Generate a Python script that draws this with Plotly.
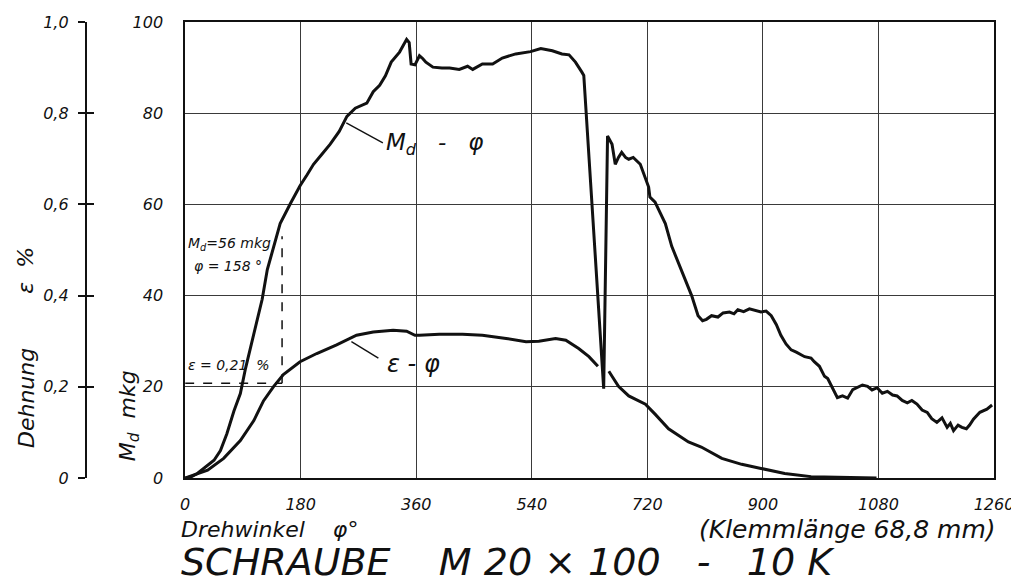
import plotly.graph_objects as go

# ---------------- data ----------------
md_phi = [0, 10, 19, 30, 45, 55, 65, 76, 86, 94, 107, 120, 128, 138, 148, 164, 179, 190, 200,
          213, 226, 240, 252, 265, 276, 283, 293, 303, 312, 321, 334, 340, 345, 349, 352, 358,
          365, 370, 375, 386, 400, 412, 427, 440, 448, 463, 479, 494, 515, 538, 554, 572, 587,
          598, 608, 618, 621, 652, 658, 665, 670, 675, 680, 686, 691, 698, 709, 722, 724, 732,
          748, 758, 773, 789, 799, 806, 812, 820, 830, 838, 848, 855, 861, 870, 879, 889, 897,
          905, 913, 921, 928, 936, 944, 952, 959, 965, 975, 980, 988, 996, 1001, 1006, 1011,
          1016, 1024, 1032, 1040, 1047, 1055, 1063, 1070, 1078, 1086, 1094, 1102, 1109, 1117,
          1125, 1132, 1140, 1148, 1156, 1163, 1171, 1179, 1187, 1192, 1197, 1204, 1210, 1217,
          1222, 1228, 1238, 1249, 1257]
md_val = [0, 0.3, 1.0, 2.2, 3.9, 6.0, 9.7, 14.7, 18.5, 24.0, 31.3, 39.2, 45.7, 50.8, 55.8, 60.2,
          64.1, 66.5, 68.8, 71.0, 73.2, 76.0, 79.3, 81.1, 81.8, 82.2, 84.7, 86.1, 88.2, 91.2, 93.4,
          95.0, 96.2, 95.5, 90.8, 90.6, 92.6, 92.0, 91.2, 90.1, 89.9, 89.9, 89.6, 90.3, 89.6,
          90.8, 90.8, 92.1, 93.0, 93.5, 94.2, 93.7, 93.0, 92.8, 91.2, 89.0, 88.3, 19.6, 75.0,
          73.2, 68.8, 70.3, 71.4, 70.3, 69.9, 70.3, 68.8, 63.8, 61.6, 60.5, 55.8, 50.8, 45.7,
          40.0, 35.6, 34.5, 34.8, 35.6, 35.3, 36.2, 36.4, 36.0, 36.9, 36.5, 37.1, 36.8, 36.4,
          36.6, 35.6, 33.6, 31.3, 29.4, 28.1, 27.6, 27.0, 26.6, 26.3, 25.5, 24.5, 22.3, 21.8,
          20.5, 19.0, 17.6, 18.0, 17.5, 19.4, 19.8, 20.4, 20.1, 19.3, 19.8, 18.6, 19.0, 18.2,
          18.0, 17.0, 16.5, 17.0, 16.2, 14.9, 14.4, 13.0, 12.2, 13.2, 11.1, 12.0, 10.4, 11.6,
          11.1, 10.8, 11.6, 12.9, 14.4, 15.1, 16.0]

eps_phi = [0, 35, 60, 86, 107, 122, 138, 153, 179, 205, 236, 267, 293, 324, 345, 358, 365, 396,
           432, 463, 500, 531, 551, 577, 593, 613, 629, 643, None, 660, 675, 691, 717, 732, 753,
           784, 804, 836, 867, 897, 934, 975, 1021, 1077]
eps_val = [0, 0.017, 0.043, 0.082, 0.126, 0.169, 0.201, 0.227, 0.255, 0.273, 0.292, 0.313, 0.320,
           0.324, 0.322, 0.313, 0.313, 0.315, 0.315, 0.313, 0.306, 0.299, 0.300, 0.306, 0.302,
           0.284, 0.266, 0.245, None, 0.234, 0.201, 0.180, 0.162, 0.140, 0.108, 0.079, 0.068,
           0.043, 0.030, 0.021, 0.010, 0.003, 0.001, 0.0]

x_ticks = [0, 180, 360, 540, 720, 900, 1080, 1260]
md_ticks = [0, 20, 40, 60, 80, 100]
eps_ticks = [0, 0.2, 0.4, 0.6, 0.8, 1.0]
eps_tick_text = ["0", "0,2", "0,4", "0,6", "0,8", "1,0"]

# marked reading (dashed guide lines), as drawn in the picture
mark_phi = 151
mark_md = 53
mark_eps = 0.208

FONT = "DejaVu Sans"
INK = "#111111"
GRID = "#3a3a3a"

fig = go.Figure()
fig.add_trace(go.Scatter(x=md_phi, y=md_val, mode="lines",
                         line=dict(color=INK, width=3), yaxis="y", showlegend=False,
                         hoverinfo="skip"))
fig.add_trace(go.Scatter(x=eps_phi, y=eps_val, mode="lines",
                         line=dict(color=INK, width=3), yaxis="y2", showlegend=False,
                         connectgaps=False, hoverinfo="skip"))
# carrier for the inward half of the cross ticks of the epsilon axis
fig.add_trace(go.Scatter(x=[None], y=[None], yaxis="y3", showlegend=False))

# page is drawn with an 8px body margin -> figure coords = picture coords - 8
OFF = 8
W, H = 1019 - OFF, 586 - OFF
L, R, T, B = 5, 25, 8, 108
pw = W - L - R
ph = H - T - B


def px(x_ref):
    return (x_ref - OFF - L) / pw


def py(y_ref):
    return 1 - (y_ref - OFF - T) / ph


x0 = px(181)
epos = px(81)

tick_font = dict(family=FONT, size=16, color=INK, style="italic")

fig.update_layout(
    width=W, height=H,
    margin=dict(l=L, r=R, t=T, b=B),
    paper_bgcolor="white", plot_bgcolor="white",
    xaxis=dict(domain=[x0, 1], range=[0, 1260], tickvals=x_ticks,
               showgrid=True, gridcolor=GRID, gridwidth=1.3,
               showline=True, linecolor=INK, linewidth=1.6, mirror=True,
               ticks="", tickfont=tick_font, ticklabelstandoff=11, zeroline=False,
               ticklabeloverflow="allow"),
    yaxis=dict(range=[0, 100], tickvals=md_ticks,
               showgrid=True, gridcolor=GRID, gridwidth=1.3,
               showline=True, linecolor=INK, linewidth=1.6, mirror=True,
               ticks="", tickfont=tick_font, ticklabelstandoff=17, zeroline=False,
               ticklabeloverflow="allow"),
    yaxis2=dict(range=[0, 1], overlaying="y", anchor="free", position=epos, side="left",
                tickvals=eps_ticks, ticktext=eps_tick_text, showgrid=False, zeroline=False,
                showline=True, linecolor=INK, linewidth=1.6, ticks="outside", ticklen=7,
                tickwidth=1.6, tickcolor=INK, tickfont=tick_font, ticklabelstandoff=6,
                ticklabeloverflow="allow"),
    yaxis3=dict(range=[0, 1], overlaying="y", anchor="free", position=epos, side="left",
                tickvals=eps_ticks, showticklabels=False, showgrid=False, zeroline=False,
                showline=False, ticks="inside", ticklen=7, tickwidth=1.6, tickcolor=INK),
)

dash = dict(color=INK, width=1.5, dash="dash")
fig.add_shape(type="line", xref="x", yref="y", x0=0, x1=mark_phi,
              y0=mark_eps * 100, y1=mark_eps * 100, line=dash)
fig.add_shape(type="line", xref="x", yref="y", x0=mark_phi, x1=mark_phi,
              y0=mark_eps * 100, y1=mark_md, line=dash)
# leader lines from the curve labels
fig.add_shape(type="line", xref="x", yref="y", x0=251, y0=77.9, x1=308, y1=73.5,
              line=dict(color=INK, width=1.4))
fig.add_shape(type="line", xref="x", yref="y2", x0=259, y0=0.299, x1=301, y1=0.263,
              line=dict(color=INK, width=1.4))


def ann(x, y, text, size, xref="x", yref="y", xanchor="left", angle=0):
    fig.add_annotation(x=x, y=y, xref=xref, yref=yref, text=text, showarrow=False,
                       xanchor=xanchor, yanchor="middle", textangle=angle,
                       font=dict(family=FONT, size=size, color=INK, style="italic"))


ann(309, 73.2, "M<sub>d</sub>   -   φ", 23)
ann(312, 0.249, "ε - φ", 24, yref="y2")
ann(2, 51.3, "M<sub>d</sub>=56 mkg", 14)
ann(10, 46.5, "φ = 158 °", 14)
ann(2, 24.7, "ε = 0,21  %", 14)

# axis titles and captions (placed in picture pixels)
ann(px(21), py(397), "Dehnung", 22, xref="paper", yref="paper", xanchor="center", angle=-90)
ann(px(21), py(267), "ε  %", 22, xref="paper", yref="paper", xanchor="center", angle=-90)
ann(px(125), py(415), "M<sub>d</sub>  mkg", 22, xref="paper", yref="paper", xanchor="center",
    angle=-90)
ann(px(175), py(530), "Drehwinkel    φ°", 22, xref="paper", yref="paper")
ann(px(998), py(530), "(Klemmlänge 68,8 mm)", 25, xref="paper", yref="paper", xanchor="right")
ann(px(175), py(563), "SCHRAUBE    M 20 × 100   -   10 K", 38, xref="paper", yref="paper")

fig.write_html("out.html")
